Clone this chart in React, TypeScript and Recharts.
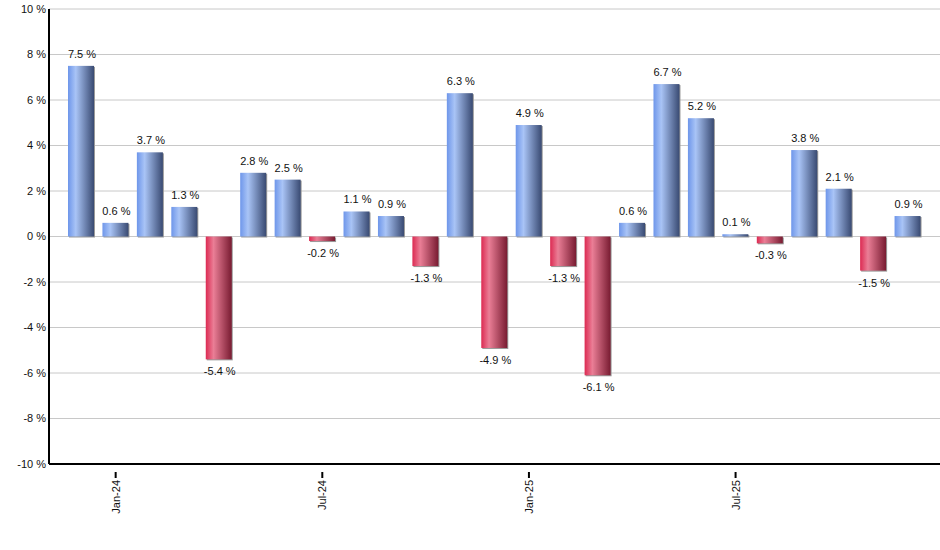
import { BarChart, Bar, XAxis, YAxis, CartesianGrid, LabelList, Cell } from 'recharts';

// ---------------------------------------------------------------------------
// Data
// ---------------------------------------------------------------------------

const MONTHS = [
  'Dec-23', 'Jan-24', 'Feb-24', 'Mar-24', 'Apr-24', 'May-24', 'Jun-24', 'Jul-24', 'Aug-24', 'Sep-24', 'Oct-24', 'Nov-24', 'Dec-24',
  'Jan-25', 'Feb-25', 'Mar-25', 'Apr-25', 'May-25', 'Jun-25', 'Jul-25', 'Aug-25', 'Sep-25', 'Oct-25', 'Nov-25', 'Dec-25',
];
const RETURNS = [7.5, 0.6, 3.7, 1.3, -5.4, 2.8, 2.5, -0.2, 1.1, 0.9, -1.3, 6.3, -4.9, 4.9, -1.3, -6.1, 0.6, 6.7, 5.2, 0.1, -0.3, 3.8, 2.1, -1.5, 0.9];
const LABELED_MONTHS = ['Jan-24', 'Jul-24', 'Jan-25', 'Jul-25'];
const Y_TICKS = [-10, -8, -6, -4, -2, 0, 2, 4, 6, 8, 10];

const chartData = MONTHS.map((month, i) => ({ month, value: RETURNS[i] }));

const FONT = '"Liberation Sans", Arial, sans-serif';

// ---------------------------------------------------------------------------
// Custom pieces
// ---------------------------------------------------------------------------

function ShadedBar(props: any) {
  const { x, y, width, height, fill } = props;
  if (x == null || y == null || !width) return null;
  const top = Math.min(y, y + height);
  const h = Math.abs(height);
  return (
    <g>
      <rect x={x + 1} y={top + 1} width={width} height={Math.max(h, 1)} fill="#9a9a9a" />
      <rect x={x} y={top} width={width} height={Math.max(h, 1)} fill={fill} />
    </g>
  );
}

function ValueLabel(props: any) {
  const { x, y, width, height, value } = props;
  if (value == null || x == null || y == null) return null;
  const top = Math.min(y, y + height);
  const bottom = Math.max(y, y + height);
  const ty = value >= 0 ? top - 8 : bottom + 16;
  return (
    <text x={x + width / 2 + 1} y={ty} textAnchor="middle" fontSize={11} fill="#111" fontFamily={FONT}>
      {`${value.toFixed(1)} %`}
    </text>
  );
}

function MonthTick(props: any) {
  const { x, y, payload } = props;
  if (!LABELED_MONTHS.includes(payload.value)) return null;
  return (
    <g>
      <line x1={x} y1={y} x2={x} y2={y + 6} stroke="#000" strokeWidth={2} />
      <text x={0} y={0} transform={`translate(${x + 4},${y + 8}) rotate(-90)`} textAnchor="end" fontSize={11} fill="#111" fontFamily={FONT}>
        {payload.value}
      </text>
    </g>
  );
}

// ---------------------------------------------------------------------------
// App
// ---------------------------------------------------------------------------

export default function App() {
  return (
    <div style={{ position: 'absolute', left: 0, top: 0, width: 940, height: 550, background: '#fff' }}>
      <BarChart width={940} height={550} data={chartData} margin={{ top: 9, right: 0, left: 0, bottom: 0 }}>
        <defs>
          <linearGradient id="gradPos" x1="0" y1="0" x2="1" y2="0">
            <stop offset="0%" stopColor="#6e96ea" />
            <stop offset="30%" stopColor="#a9c4f6" />
            <stop offset="100%" stopColor="#394a72" />
          </linearGradient>
          <linearGradient id="gradNeg" x1="0" y1="0" x2="1" y2="0">
            <stop offset="0%" stopColor="#dc2a52" />
            <stop offset="30%" stopColor="#ea7e96" />
            <stop offset="100%" stopColor="#781b31" />
          </linearGradient>
        </defs>
        <CartesianGrid vertical={false} stroke="#c8c8c8" />
        <XAxis
          dataKey="month"
          interval={0}
          padding={{ left: 15, right: 15 }}
          axisLine={{ stroke: '#000', strokeWidth: 2 }}
          tickLine={false}
          tick={<MonthTick />}
          height={86}
        />
        <YAxis
          domain={[-10, 10]}
          ticks={Y_TICKS}
          width={49}
          axisLine={{ stroke: '#000', strokeWidth: 2 }}
          tickLine={false}
          tickSize={0}
          tickMargin={3}
          tickFormatter={(v: number) => `${v} %`}
          tick={{ fontSize: 11, fill: '#111', fontFamily: FONT }}
          interval={0}
        />
        <Bar dataKey="value" barSize={26} isAnimationActive={false} shape={<ShadedBar />}>
          {chartData.map((d, i) => (
            <Cell key={i} fill={d.value >= 0 ? 'url(#gradPos)' : 'url(#gradNeg)'} />
          ))}
          <LabelList dataKey="value" content={<ValueLabel />} />
        </Bar>
      </BarChart>
    </div>
  );
}
